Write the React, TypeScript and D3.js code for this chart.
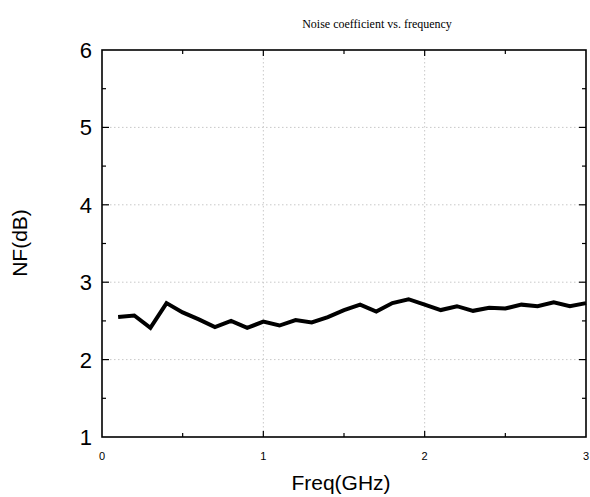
import React from "react";
import * as d3 from "d3";

const freqs = [0.1,0.2,0.3,0.4,0.5,0.6,0.7,0.8,0.9,1.0,1.1,1.2,1.3,1.4,1.5,1.6,1.7,1.8,1.9,2.0,2.1,2.2,2.3,2.4,2.5,2.6,2.7,2.8,2.9,3.0];
const nf = [2.55,2.57,2.41,2.73,2.61,2.52,2.42,2.50,2.41,2.49,2.44,2.51,2.48,2.55,2.64,2.71,2.62,2.73,2.78,2.71,2.64,2.69,2.63,2.67,2.66,2.71,2.69,2.74,2.69,2.73];
const xTicks = [0, 1, 2, 3];
const xMinor = [0.5, 1, 1.5, 2, 2.5];
const yTicks = [1, 2, 3, 4, 5, 6];
const yMinor = [1.5, 2, 2.5, 3, 3.5, 4, 4.5, 5, 5.5];
const xGrid = [1, 2];
const yGrid = [2, 3, 4, 5];

export default function App() {
  const W = 590, H = 497;
  const L = 102, R = 586, T = 50, B = 437;
  const x = d3.scaleLinear().domain([0, 3]).range([L, R]);
  const y = d3.scaleLinear().domain([1, 6]).range([B, T]);
  const line = d3.line<number>().x((_, i) => x(freqs[i])).y((d) => y(d));
  const sans = "Liberation Sans, Arial, sans-serif";
  const isMajorX = (v: number) => Number.isInteger(v);
  return (
    <svg width={W} height={H} style={{ position: "absolute", left: 0, top: 0, background: "#fff" }}>
      <rect x={0} y={0} width={W} height={H} fill="#fff" />
      <text x={377} y={28} textAnchor="middle" fontFamily="Liberation Serif, Times New Roman, serif" fontSize={12}>
        Noise coefficient vs. frequency
      </text>
      {xGrid.map((v) => (
        <line key={"xg" + v} x1={x(v)} x2={x(v)} y1={T} y2={B} stroke="#c8c8c8" strokeWidth={1} strokeDasharray="1.5,2.5" />
      ))}
      {yGrid.map((v) => (
        <line key={"yg" + v} x1={L} x2={R} y1={y(v)} y2={y(v)} stroke="#c8c8c8" strokeWidth={1} strokeDasharray="1.5,2.5" />
      ))}
      {xMinor.map((v) => {
        const len = isMajorX(v) ? 6 : 4;
        return (
          <g key={"xt" + v}>
            <line x1={x(v)} x2={x(v)} y1={B} y2={B - len} stroke="#000" strokeWidth={1.2} />
            <line x1={x(v)} x2={x(v)} y1={T} y2={T + len} stroke="#000" strokeWidth={1.2} />
          </g>
        );
      })}
      {yMinor.map((v) => {
        const len = Number.isInteger(v) ? 7 : 4;
        return (
          <g key={"yt" + v}>
            <line x1={L} x2={L + len} y1={y(v)} y2={y(v)} stroke="#000" strokeWidth={1.2} />
            <line x1={R} x2={R - len} y1={y(v)} y2={y(v)} stroke="#000" strokeWidth={1.2} />
          </g>
        );
      })}
      <path d={line(nf) || ""} fill="none" stroke="#000" strokeWidth={4} strokeLinejoin="miter" />
      <rect x={L} y={T} width={R - L} height={B - T} fill="none" stroke="#000" strokeWidth={1.6} />
      {yTicks.map((v) => (
        <text key={"yl" + v} x={92} y={y(v) + 8} textAnchor="end" fontFamily={sans} fontSize={22}>
          {v}
        </text>
      ))}
      {xTicks.map((v) => (
        <text key={"xl" + v} x={x(v)} y={460} textAnchor="middle" fontFamily={sans} fontSize={11}>
          {v}
        </text>
      ))}
      <text x={341} y={490} textAnchor="middle" fontFamily={sans} fontSize={21}>
        Freq(GHz)
      </text>
      <text transform={`translate(27,243) rotate(-90)`} textAnchor="middle" fontFamily={sans} fontSize={21}>
        NF(dB)
      </text>
    </svg>
  );
}
